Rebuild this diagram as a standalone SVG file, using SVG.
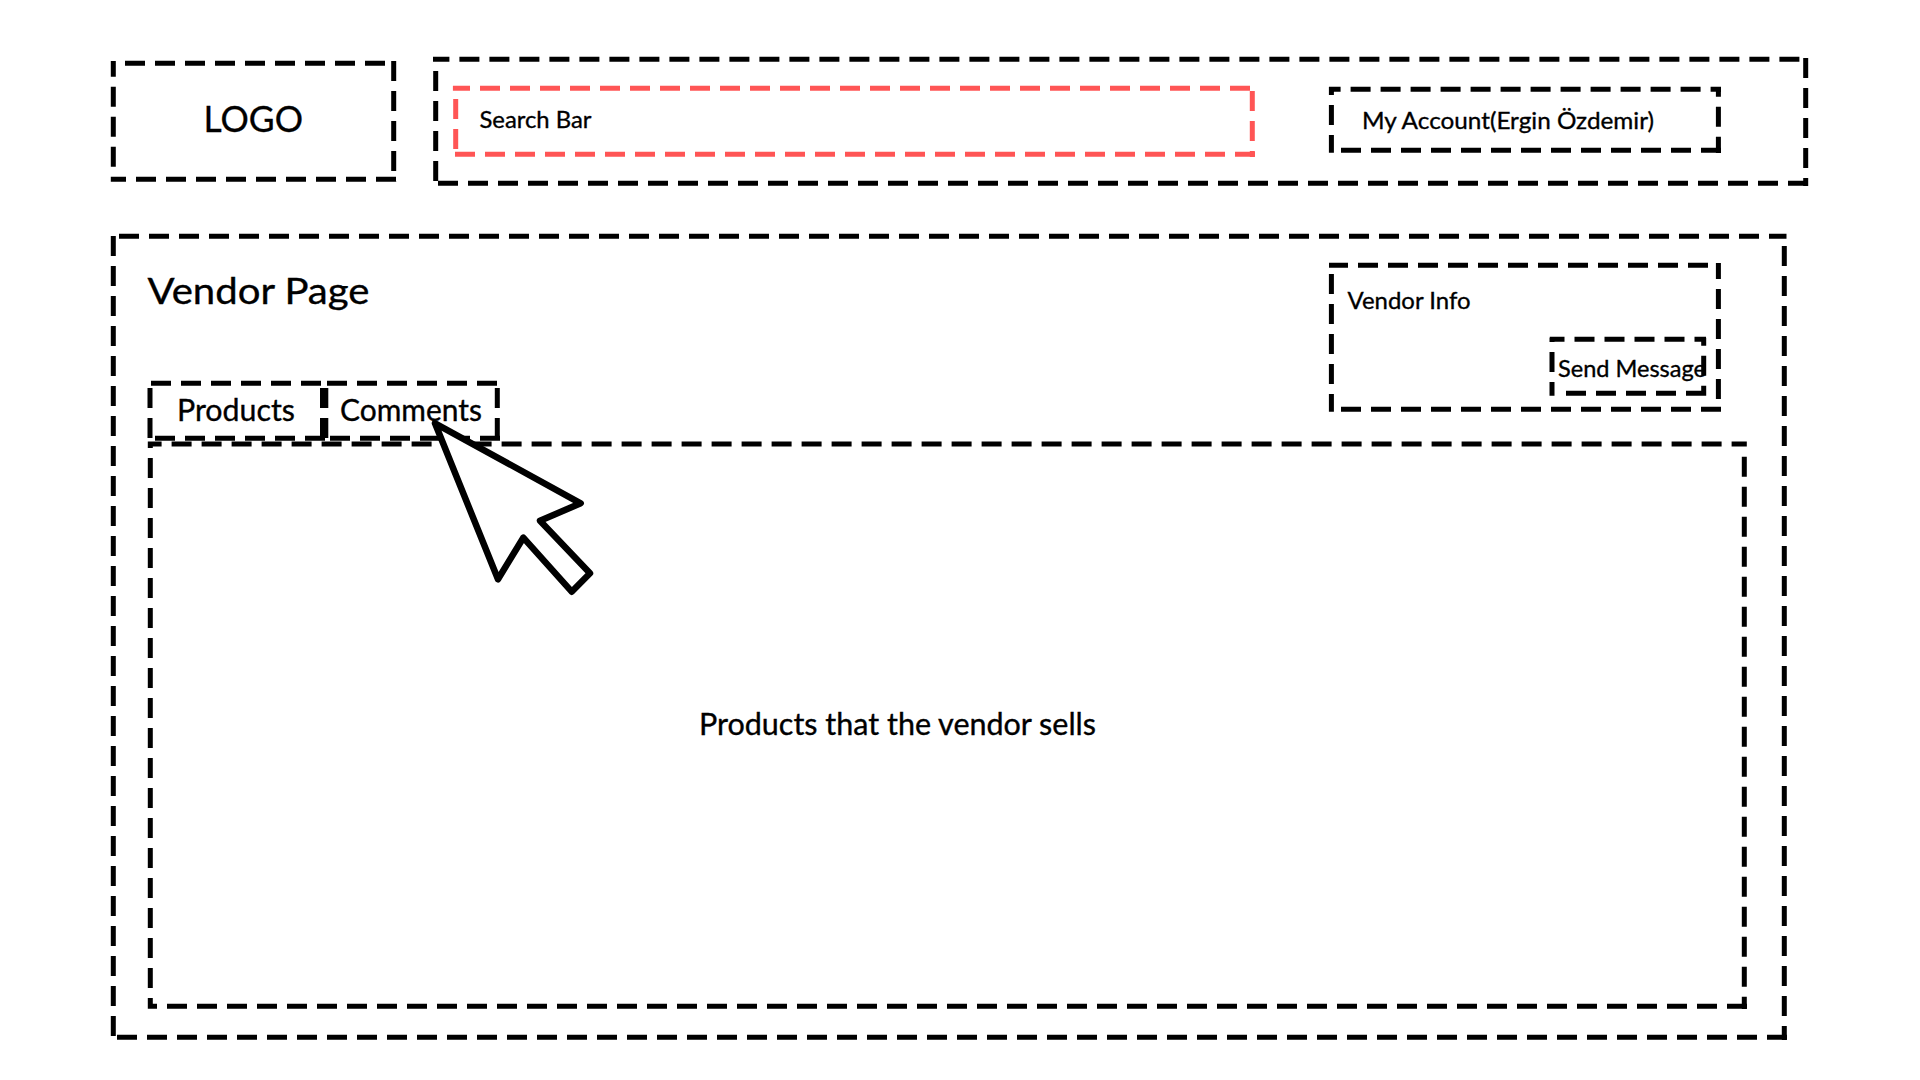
<svg xmlns="http://www.w3.org/2000/svg" width="1920" height="1080" viewBox="0 0 1920 1080">
<style>
.box{fill:none;stroke:#000;stroke-width:5;stroke-dasharray:20 10}
.red{stroke:#ff5555}
text{font-family:"Lato","Liberation Sans",sans-serif;fill:#000;stroke:#000;stroke-width:.35px}
.s{font-size:24px}
.m{font-size:30px}
.l{font-size:37px}
</style>
<rect width="1920" height="1080" fill="#fff"/>
<g id="logo">
<path class="box" d="M125,63.3H385M393.7,61V181.8M396,179.3H110.8M113.3,166.7V61"/>
<text class="l" x="203.5" y="132" textLength="99.5" lengthAdjust="spacingAndGlyphs">LOGO</text>
</g>
<g id="header">
<path class="box" d="M1799.4,59.3H433M1805.7,58V186M1808,183.3H438M435.7,71V181"/>
</g>
<g id="search-bar">
<path class="box red" d="M1250,88.3H452.9M1252.3,91V157M1255,154.3H455M455.7,99V149"/>
<text class="s" x="479.5" y="128" textLength="112" lengthAdjust="spacingAndGlyphs">Search Bar</text>
</g>
<g id="my-account">
<path class="box" d="M1700.6,89.3H1329M1710.6,89.3H1721M1718.4,126.7V86.7M1718.4,136.7V153M1721,150.3H1341M1331.4,125V86.7M1331.4,135V152.8"/>
<text class="s" x="1362" y="129" textLength="292" lengthAdjust="spacingAndGlyphs">My Account(Ergin Özdemir)</text>
</g>
<g id="vendor-page">
<path class="box" d="M119,236.3H1786.5M1784.3,246V1040M1787,1037.3H117M113.3,1036V234"/>
<text class="l" x="147.5" y="303.5" textLength="222" lengthAdjust="spacingAndGlyphs">Vendor Page</text>
</g>
<g id="vendor-info">
<path class="box" d="M1708,265.3H1329M1718.4,399V263M1721,409.3H1341M1331.4,274V411.8"/>
<text class="s" x="1347.5" y="309" textLength="123" lengthAdjust="spacingAndGlyphs">Vendor Info</text>
</g>
<g id="send-message">
<path class="box" d="M1684.5,339.3H1549.8M1694.5,339.3H1706M1552,372V337.8M1552,382V395.8M1703.7,375.7V337.8M1703.7,385.7V395.8M1706,393.3H1566"/>
<text class="s" x="1558" y="377" textLength="148" lengthAdjust="spacingAndGlyphs">Send Message</text>
</g>
<g id="tab-products">
<path class="box" d="M151,383.3H321M322.5,388V438M150,388V438M325,438.3H152"/>
<text class="m" x="177" y="421" textLength="118" lengthAdjust="spacingAndGlyphs">Products</text>
</g>
<g id="tab-comments">
<path class="box" d="M327,383.3H497M325.8,388V438M497.3,388V438M500,438.3H328"/>
<text class="m" x="340" y="421" textLength="142" lengthAdjust="spacingAndGlyphs">Comments</text>
</g>
<g id="products-area">
<path class="box" d="M1721.6,444H147.8M1731.6,444H1746.8M1744.3,456.7V1009M1747,1006.3H147.8M150.3,988V441.5M150.3,998V1008.8"/>
<text class="m" x="699" y="735" textLength="397" lengthAdjust="spacingAndGlyphs">Products that the vendor sells</text>
</g>
<g id="cursor">
<path d="M435,423.3L580.7,503.3L540,520.7L590,573.3L571.7,591.7L523.3,537.7L498,579.3Z" fill="#fff" stroke="#000" stroke-width="6.5" stroke-linejoin="round"/>
</g>
</svg>
